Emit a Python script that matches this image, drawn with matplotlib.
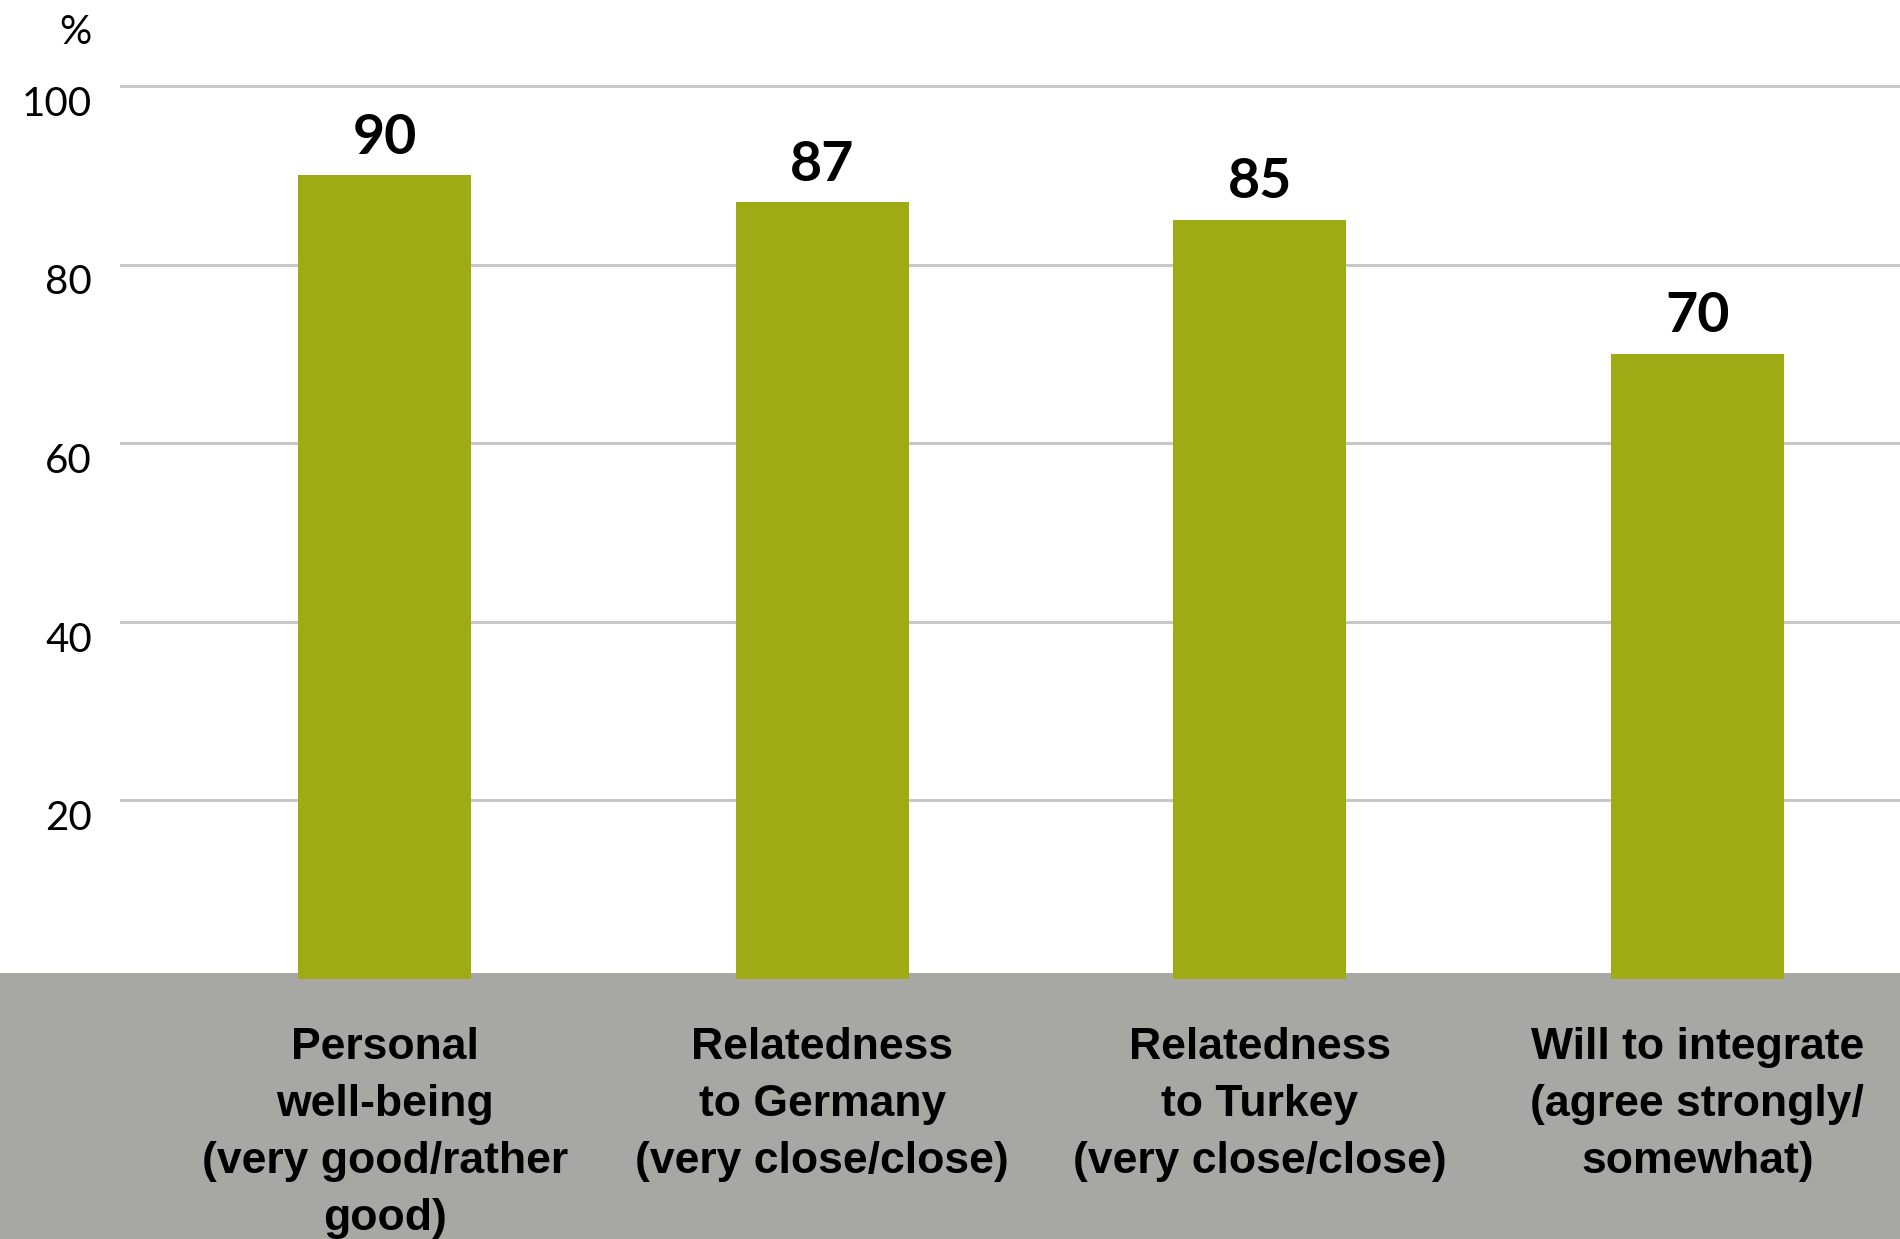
import matplotlib
matplotlib.use("Agg")
import matplotlib.pyplot as plt
from matplotlib.patches import Rectangle

categories = [
    "Personal\nwell-being\n(very good/rather\ngood)",
    "Relatedness\nto Germany\n(very close/close)",
    "Relatedness\nto Turkey\n(very close/close)",
    "Will to integrate\n(agree strongly/\nsomewhat)",
]
values = [90, 87, 85, 70]
yticks = [20, 40, 60, 80, 100]
ytick_labels = ["20", "40", "60", "80", "100"]

BAR = "#9EAB14"
BAND = "#A7A8A3"
GRID = "#C8C8C8"

W, H = 1900, 1239
fig = plt.figure(figsize=(W / 100, H / 100), dpi=100)

# grey band at the bottom
band_top = (H - 973) / H
fig.patches.append(Rectangle((0, 0), 1, band_top, transform=fig.transFigure,
                             facecolor=BAND, edgecolor="none", zorder=-1))

ax_left = 121 / W
ax_bottom = (H - 978.5) / H
ax_top = (H - 86) / H
ax = fig.add_axes([ax_left, ax_bottom, 1 - ax_left, ax_top - ax_bottom])
ax.patch.set_alpha(0)

x = list(range(len(values)))
ax.bar(x, values, width=0.395, color=BAR, zorder=3)
ax.set_xlim(-0.603, 3.463)
ax.set_ylim(0, 100)

for v in yticks:
    ax.axhline(v, color=GRID, lw=2.2, zorder=1, clip_on=False)

for s in ax.spines.values():
    s.set_visible(False)

ax.set_yticks(yticks)
ax.set_yticklabels(ytick_labels, fontsize=29, family=["Lato", "DejaVu Sans"])
ax.tick_params(axis="y", length=0, pad=21)
for lbl in ax.get_yticklabels():
    lbl.set_va("top")

ax.set_xticks(x)
ax.set_xticklabels(categories, fontsize=32, fontweight="bold",
                   family=["Liberation Sans Narrow", "Liberation Sans", "DejaVu Sans"],
                   linespacing=1.5, va="top")
ax.tick_params(axis="x", length=0, pad=35)

for xi, v in zip(x, values):
    ax.annotate(str(v), (xi, v), xytext=(0, 27), textcoords="offset points",
                ha="center", va="center", fontsize=40, fontweight="bold",
                family=["Lato", "DejaVu Sans"], zorder=4)

fig.text(75 / W, 1 - 33 / H, "%", ha="center", va="center", fontsize=29,
         family=["Lato", "DejaVu Sans"])

fig.savefig("out.png", dpi=100)
